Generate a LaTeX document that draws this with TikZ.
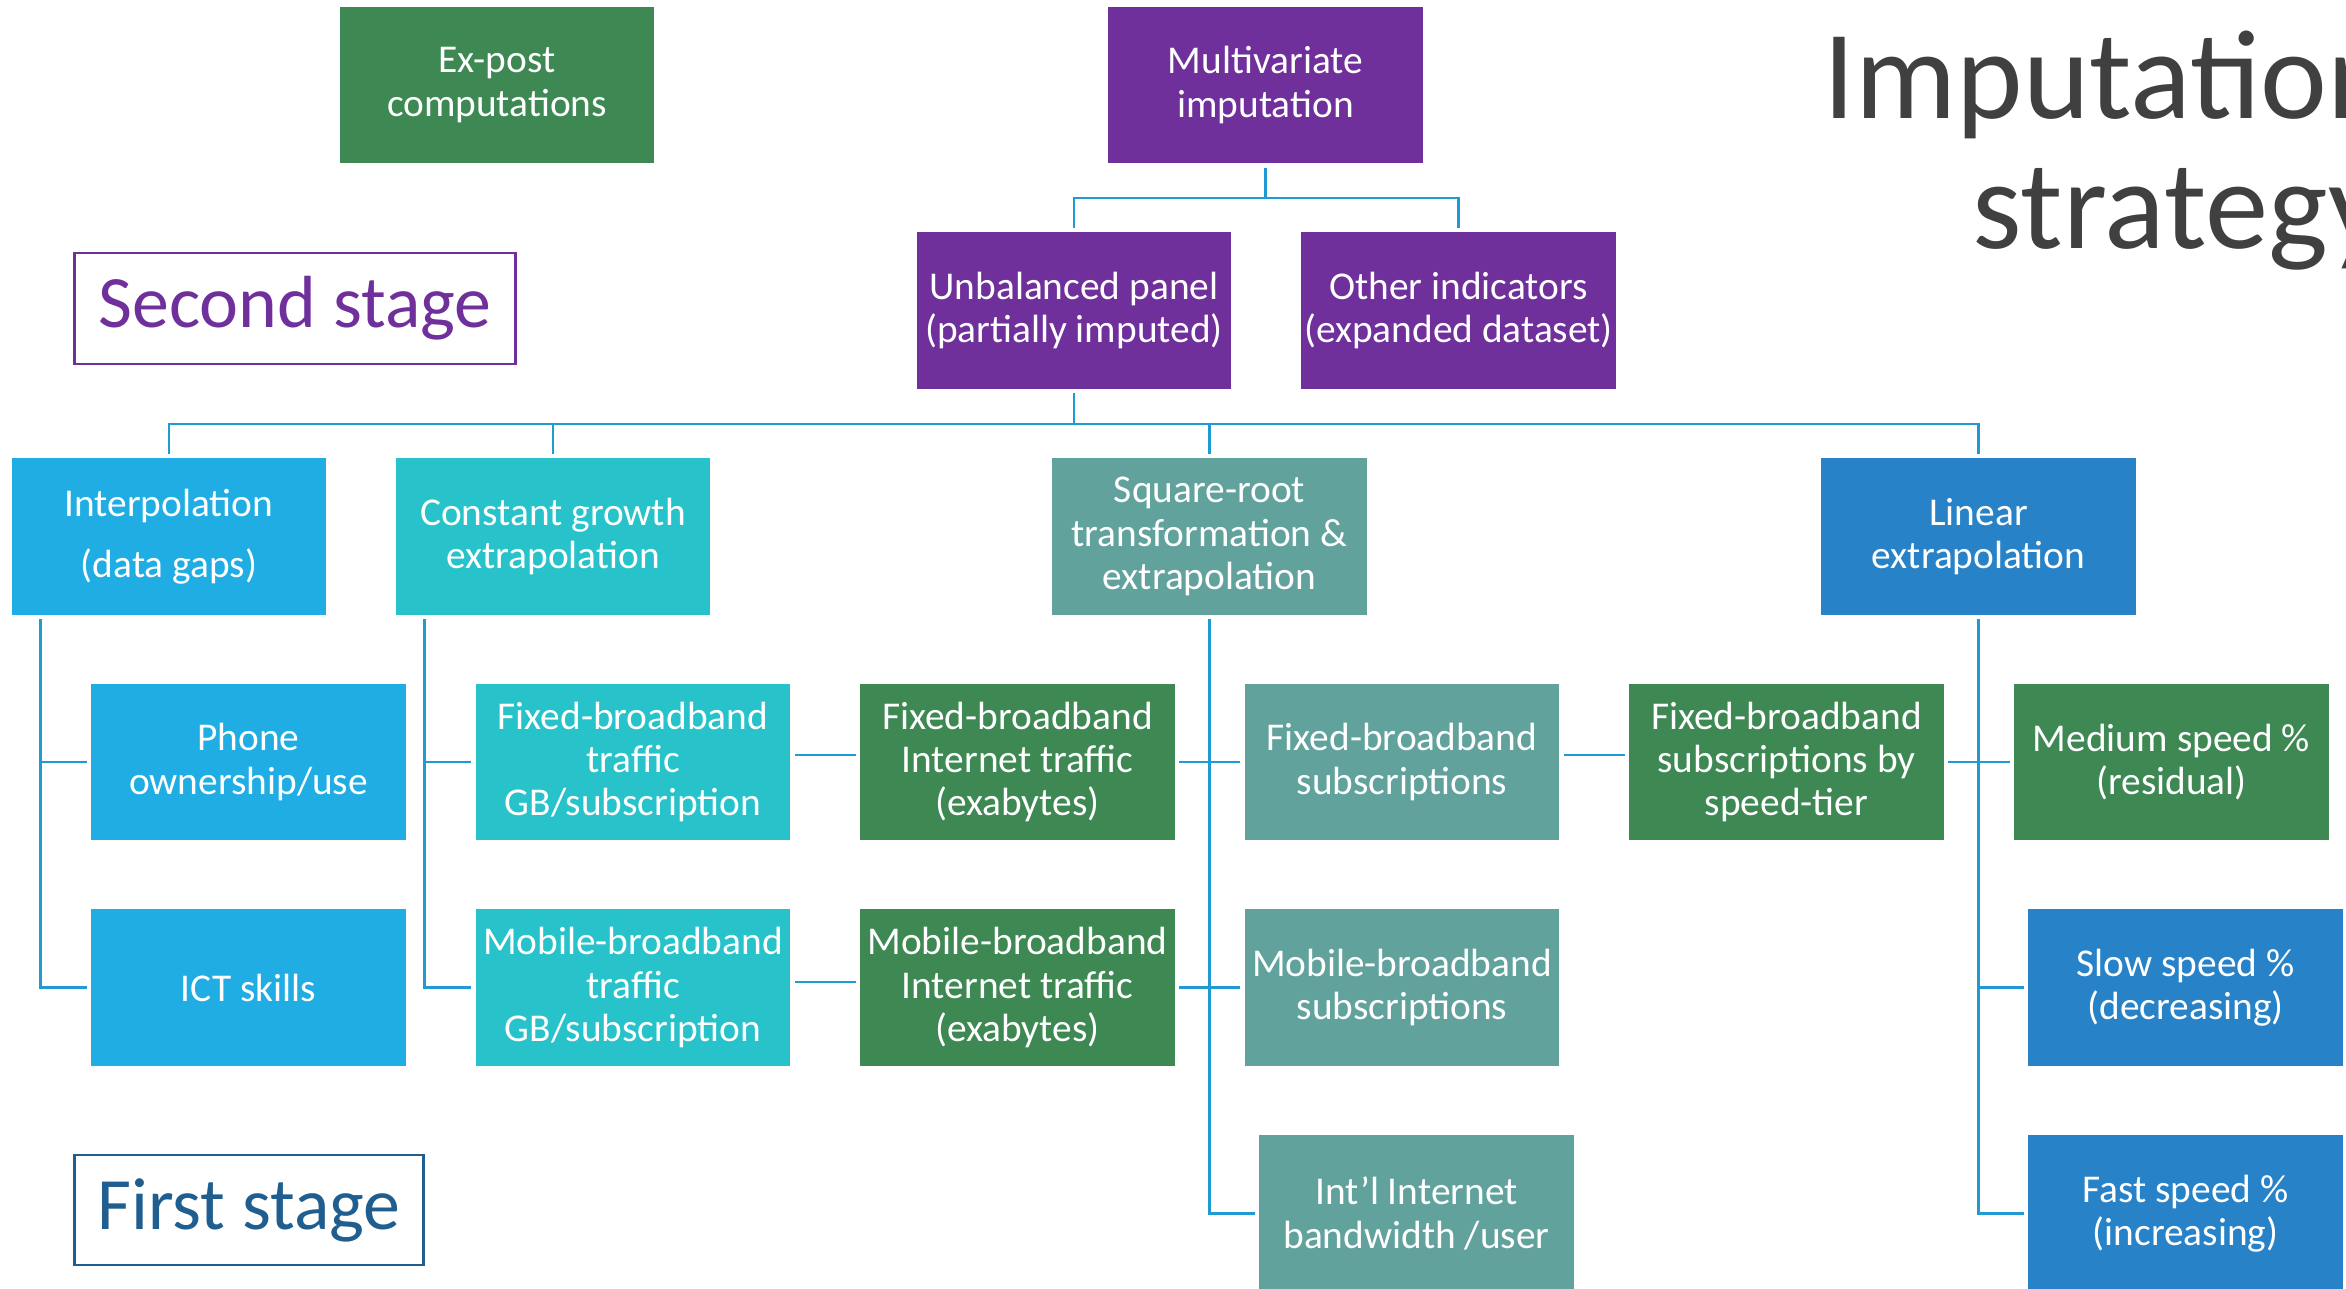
\documentclass[tikz,border=0pt]{standalone}
\usepackage{fontspec}
\setmainfont{Carlito}
\usetikzlibrary{calc}
\definecolor{skyblue}{HTML}{1FADE3}
\definecolor{aqua}{HTML}{28C3CA}
\definecolor{sage}{HTML}{62A29D}
\definecolor{ocean}{HTML}{2882C7}
\definecolor{leaf}{HTML}{3E8853}
\definecolor{plum}{HTML}{70309B}
\definecolor{wire}{HTML}{1F9AD2}
\definecolor{navy}{HTML}{1F5E8E}
\definecolor{slate}{HTML}{404040}

\begin{document}
\begin{tikzpicture}[x=0.01cm, y=-0.01cm,
    box/.style={fill=#1, text=white, minimum width=3.14cm, minimum height=1.56cm,
      inner sep=0pt, align=center, font=\fontsize{11.2}{12.35}\selectfont},
    link/.style={draw=wire, line width=0.8pt, shorten <=0.04cm, shorten >=0.04cm},
    stage/.style={draw=#1, text=#1, line width=0.8pt, inner sep=0pt,
      font=\fontsize{21}{25}\selectfont},
    headline/.style={text=slate, inner sep=0pt, font=\fontsize{36}{40}\selectfont}]
  \useasboundingbox (0,0) rectangle (2346,1289);

  % second stage
  \node[box=leaf] (expost) at (497,85) {Ex-post\\computations};
  \node[box=plum] (multi) at (1265.5,85) {Multivariate\\imputation};
  \node[box=plum] (unbal) at (1074,310.5) {Unbalanced panel\\(partially imputed)};
  \node[box=plum] (other) at (1458.5,310.5) {Other indicators\\(expanded dataset)};
  \node[stage=plum, minimum width=4.40cm, minimum height=1.11cm] (second) at (295,308.5) {Second stage};

  % first stage methods
  \node[box=skyblue] (interp) at (169,536.5) {Interpolation\\[0.17cm](data gaps)};
  \node[box=aqua] (const) at (553,536.5) {Constant growth\\extrapolation};
  \node[box=sage] (sqrt) at (1209.5,536.5) {Square-root\\transformation \&\\extrapolation};
  \node[box=ocean] (lin) at (1978.5,536.5) {Linear\\extrapolation};

  % indicators
  \node[box=skyblue] (phone) at (248.5,762) {Phone\\ownership/use};
  \node[box=skyblue] (ict) at (248.5,987.5) {ICT skills};
  \node[box=aqua] (fbtraffic) at (633,762) {Fixed-broadband\\traffic\\GB/subscription};
  \node[box=aqua] (mbtraffic) at (633,987.5) {Mobile-broadband\\traffic\\GB/subscription};
  \node[box=leaf] (fbnet) at (1017.5,762) {Fixed-broadband\\Internet traffic\\(exabytes)};
  \node[box=leaf] (mbnet) at (1017.5,987.5) {Mobile-broadband\\Internet traffic\\(exabytes)};
  \node[box=sage] (fbsubs) at (1402,762) {Fixed-broadband\\subscriptions};
  \node[box=sage] (mbsubs) at (1402,987.5) {Mobile-broadband\\subscriptions};
  \node[box=sage] (intl) at (1416.5,1213.5) {Int’l Internet\\bandwidth /user};
  \node[box=leaf] (tier) at (1786.5,762) {Fixed-broadband\\subscriptions by\\speed-tier};
  \node[box=leaf] (medium) at (2171.5,762) {Medium speed \%\\(residual)};
  \node[box=ocean] (slow) at (2185.5,987.5) {Slow speed \%\\(decreasing)};
  \node[box=ocean] (fast) at (2185.5,1213.5) {Fast speed \%\\(increasing)};
  \node[stage=navy, minimum width=3.48cm, minimum height=1.10cm] (first) at (249,1210) {First stage};

  \node[headline, anchor=base west] (title1) at (1823,119) {Imputation};
  \node[headline, anchor=base west] (title2) at (1972,249) {strategy};

  % connectors
  \coordinate (fork) at (0,198);
  \coordinate (bus) at (0,424);
  \foreach \n in {unbal,other}
    \draw[link] (multi.south) -- (multi.south |- fork) -| (\n.north);
  \foreach \n in {interp,const,sqrt,lin}
    \draw[link] (unbal.south) -- (unbal.south |- bus) -| (\n.north);
  \foreach \n in {phone,ict}
    \draw[link] ([xshift=0.29cm]interp.south west) |- (\n.west);
  \foreach \n in {fbtraffic,mbtraffic}
    \draw[link] ([xshift=0.29cm]const.south west) |- (\n.west);
  \draw[link] (sqrt.south) |- (intl.west);
  \foreach \n in {slow,fast}
    \draw[link] (lin.south) |- (\n.west);
  \draw[link] ([yshift=0.07cm]fbtraffic.east) -- ([yshift=0.07cm]fbnet.west);
  \draw[link] ([yshift=0.055cm]mbtraffic.east) -- ([yshift=0.055cm]mbnet.west);
  \draw[link] (fbnet.east) -- (fbsubs.west);
  \draw[link] (mbnet.east) -- (mbsubs.west);
  \draw[link] ([yshift=0.07cm]fbsubs.east) -- ([yshift=0.07cm]tier.west);
  \draw[link] (tier.east) -- (medium.west);
\end{tikzpicture}
\end{document}
